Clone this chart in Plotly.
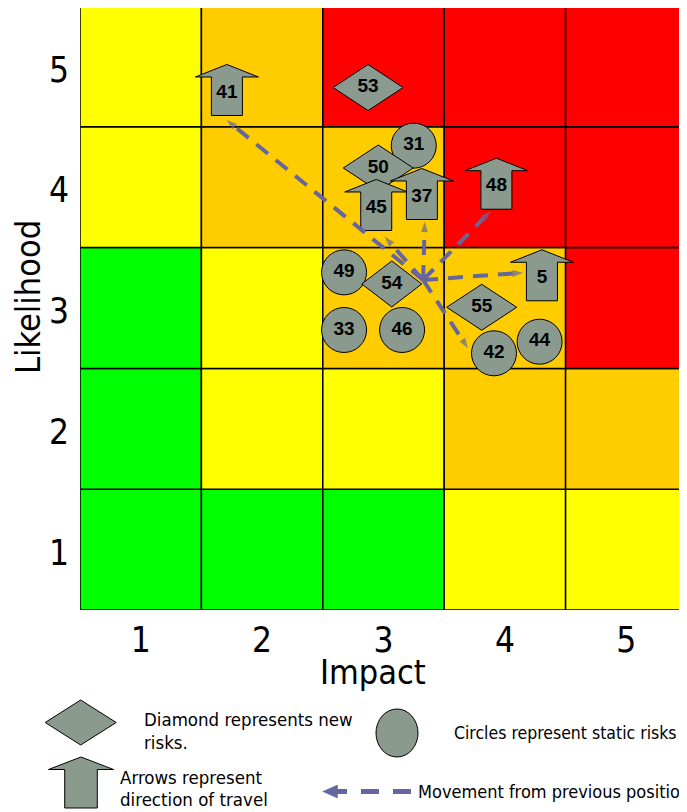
import plotly.graph_objects as go

# ---------------- data ----------------
impact_ticks = [1, 2, 3, 4, 5]
likelihood_ticks = [1, 2, 3, 4, 5]
# risk level per cell, rows = likelihood 1..5, cols = impact 1..5 (0 green, 1 yellow, 2 amber, 3 red)
cell_levels = [
    [0, 0, 0, 1, 1],
    [0, 1, 1, 2, 2],
    [0, 1, 2, 2, 3],
    [1, 2, 2, 3, 3],
    [1, 2, 3, 3, 3],
]

circle_ids = ["31", "49", "33", "46", "42", "44"]
circle_x = [3.249, 2.675, 2.675, 3.153, 3.910, 4.286]
circle_y = [4.344, 3.295, 2.818, 2.818, 2.625, 2.721]

diamond_ids = ["53", "50", "54", "55"]
diamond_x = [2.873, 2.957, 3.068, 3.809]
diamond_y = [4.825, 4.159, 3.199, 3.006]

arrow_ids = ["41", "45", "37", "48", "5"]
arrow_x = [1.710, 2.940, 3.316, 3.930, 4.305]
arrow_y = [4.780, 3.828, 3.919, 4.004, 3.246]

move_origin_x = 3.326
move_origin_y = 3.232
move_end_x = [1.708, 3.010, 3.340, 3.883, 4.149, 3.696]
move_end_y = [4.556, 3.590, 3.714, 3.803, 3.292, 2.666]

# ---------------- style ----------------
OFF = 8  # page body margin
W, H = 687 - OFF, 812 - OFF
LEVEL_COLORS = ["#00FF00", "#FFFF00", "#FFCC00", "#FF0000"]
MARK_FILL = "#8B9A8F"
DASH_COL = "#66669E"
NARROW = "DejaVu Sans Condensed, Liberation Sans Narrow, Liberation Sans, sans-serif"
LABEL_FONT = dict(family="Liberation Sans, Arial, sans-serif", size=19, color="black", weight="bold")
X0_PX, X1_PX = 80, 687
Y0_PX, Y1_PX = 6, 610
PX_X = (X1_PX - X0_PX) / 5.0
PX_Y = (Y1_PX - Y0_PX) / 5.0
TOP_PX = max(Y0_PX, OFF)
Y_TOP = 5.5 - (TOP_PX - Y0_PX) / PX_Y
DIAMOND_W = [70, 70, 60, 70]
DIAMOND_H = 46


def px(x):
    return (x - OFF) / W


def py(y):
    return 1 - (y - OFF) / H


fig = go.Figure()

# cells
shapes = []
for r, row in enumerate(cell_levels):
    for c, lev in enumerate(row):
        shapes.append(dict(type="rect", xref="x", yref="y",
                           x0=impact_ticks[c] - 0.5, x1=impact_ticks[c] + 0.5,
                           y0=likelihood_ticks[r] - 0.5, y1=likelihood_ticks[r] + 0.5,
                           fillcolor=LEVEL_COLORS[lev], line=dict(color="black", width=1.5),
                           layer="below"))

# circles
fig.add_trace(go.Scatter(x=circle_x, y=circle_y, mode="markers",
                         marker=dict(symbol="circle", size=45, color=MARK_FILL,
                                     line=dict(color="black", width=1)),
                         hoverinfo="skip"))

# diamonds
for cx, cy, w in zip(diamond_x, diamond_y, DIAMOND_W):
    dx = w / 2 / PX_X
    dy = DIAMOND_H / 2 / PX_Y
    fig.add_trace(go.Scatter(x=[cx - dx, cx, cx + dx, cx, cx - dx],
                             y=[cy, cy + dy, cy, cy - dy, cy],
                             mode="lines", fill="toself", fillcolor=MARK_FILL,
                             line=dict(color="black", width=1), hoverinfo="skip"))

# block arrows (pixel offsets relative to the label point)
ARW = [(0, -28.5), (31.5, -16), (15.5, -16), (15.5, 22.5), (-15.5, 22.5), (-15.5, -16), (-31.5, -16), (0, -28.5)]
for cx, cy in zip(arrow_x, arrow_y):
    fig.add_trace(go.Scatter(x=[cx + p[0] / PX_X for p in ARW],
                             y=[cy - p[1] / PX_Y for p in ARW],
                             mode="lines", fill="toself", fillcolor=MARK_FILL,
                             line=dict(color="black", width=1), hoverinfo="skip"))

# movement lines
for ex, ey in zip(move_end_x, move_end_y):
    fig.add_trace(go.Scatter(x=[move_origin_x, ex], y=[move_origin_y, ey],
                             mode="lines+markers",
                             line=dict(color=DASH_COL, width=4, dash="15px,10px"),
                             marker=dict(symbol=["circle", "arrow"], size=[0, 11], color=DASH_COL,
                                         angleref="previous", line=dict(width=0)),
                             hoverinfo="skip"))

# labels
fig.add_trace(go.Scatter(x=circle_x + diamond_x + arrow_x,
                         y=circle_y + diamond_y + arrow_y,
                         text=circle_ids + diamond_ids + arrow_ids,
                         mode="text", textposition="middle center",
                         textfont=LABEL_FONT, hoverinfo="skip"))


# ---------------- legend (pixel -> paper) ----------------
def path(points):
    return "M " + " L ".join(f"{px(a):.5f},{py(b):.5f}" for a, b in points) + " Z"


shapes.append(dict(type="path", xref="paper", yref="paper",
                   path=path([(45.2, 722.5), (80.7, 700), (116.2, 722.5), (80.7, 745)]),
                   fillcolor=MARK_FILL, line=dict(color="black", width=1)))
shapes.append(dict(type="path", xref="paper", yref="paper",
                   path=path([(81, 757), (113.5, 769.5), (97.3, 769.5), (97.3, 808), (64.7, 808),
                              (64.7, 769.5), (48.5, 769.5)]),
                   fillcolor=MARK_FILL, line=dict(color="black", width=1)))
shapes.append(dict(type="circle", xref="paper", yref="paper",
                   x0=px(376), x1=px(418), y0=py(757), y1=py(709),
                   fillcolor=MARK_FILL, line=dict(color="black", width=1)))
shapes.append(dict(type="line", xref="paper", yref="paper",
                   x0=px(411), x1=px(336), y0=py(791.5), y1=py(791.5),
                   line=dict(color=DASH_COL, width=5, dash="18px,14px")))
shapes.append(dict(type="path", xref="paper", yref="paper",
                   path=path([(322.7, 791.5), (337.5, 785), (337.5, 798)]),
                   fillcolor=DASH_COL, line=dict(color=DASH_COL, width=0.5)))

annotations = []


def txt(x, y, s, size=18.5, anchor="left", **kw):
    annotations.append(dict(xref="paper", yref="paper", x=px(x), y=py(y), text=s,
                            showarrow=False, xanchor=anchor, yanchor="middle",
                            font=dict(family=NARROW, size=size, color="black"), **kw))


txt(142, 719, "Diamond represents new")
txt(142, 742, "risks.")
txt(452, 733, "Circles represent static risks", size=17.5)
txt(118, 777, "Arrows represent")
txt(118, 799, "direction of travel")
txt(416, 791, "Movement from previous position", size=18)
txt(373, 672, "Impact", size=34, anchor="center")
txt(28, 297, "Likelihood", size=34, anchor="center", textangle=-90)

TICKFONT = dict(family=NARROW, size=35, color="black")
fig.update_layout(
    width=W, height=H,
    margin=dict(l=0, r=0, t=0, b=0),
    paper_bgcolor="white", plot_bgcolor="white",
    showlegend=False,
    shapes=shapes, annotations=annotations,
    xaxis=dict(domain=[px(X0_PX), px(X1_PX)], range=[0.5, 5.5], tickvals=impact_ticks,
               showgrid=False, zeroline=False, showline=False, ticks="",
               tickfont=TICKFONT, ticklabelstandoff=6, fixedrange=True),
    yaxis=dict(domain=[py(Y1_PX), py(TOP_PX)], range=[0.5, Y_TOP], tickvals=likelihood_ticks,
               showgrid=False, zeroline=False, showline=False, ticks="",
               tickfont=TICKFONT, ticklabelstandoff=10, ticklabelshift=3, fixedrange=True),
)

fig.write_html("out.html")
